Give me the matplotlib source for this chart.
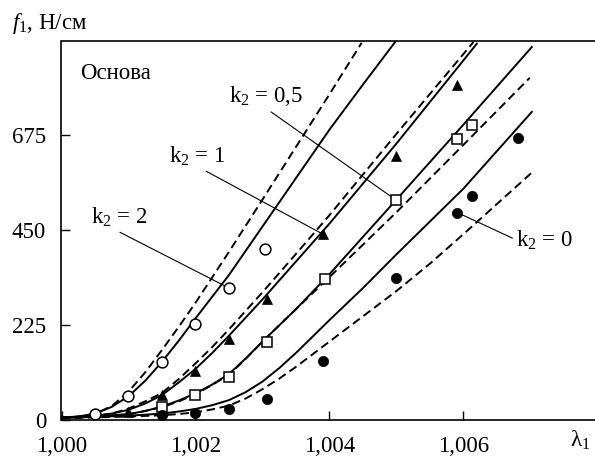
import matplotlib
matplotlib.use("Agg")
import matplotlib.pyplot as plt

plt.rcParams['font.family'] = ['Liberation Serif', 'DejaVu Serif']
plt.rcParams['mathtext.fontset'] = 'custom'
plt.rcParams['mathtext.rm'] = 'Liberation Serif'
plt.rcParams['mathtext.it'] = 'Liberation Serif:italic'

# ---------------- data ----------------
# calculated curves (solid) and (dashed) for each k2
k2_2_solid_x = [1.000, 1.00025, 1.0005, 1.00075, 1.001, 1.00125, 1.0015, 1.00175, 1.002, 1.0025, 1.003, 1.0035, 1.004, 1.0045, 1.00498]
k2_2_solid_y = [5, 7, 14, 30, 55, 92, 137, 187, 240, 343, 458, 573, 688, 795, 896]
k2_2_dash_x = [1.000, 1.00025, 1.0005, 1.00075, 1.001, 1.00125, 1.0015, 1.00175, 1.002, 1.0025, 1.003, 1.0035, 1.004, 1.00448]
k2_2_dash_y = [5, 7, 13, 32, 66, 112, 165, 220, 277, 398, 522, 647, 772, 894]

k2_1_solid_x = [1.000, 1.0005, 1.00075, 1.001, 1.00125, 1.0015, 1.00175, 1.002, 1.00225, 1.0025, 1.003, 1.0035, 1.004, 1.005, 1.0062]
k2_1_solid_y = [4, 9, 14, 23, 38, 58, 88, 120, 158, 199, 285, 375, 465, 655, 892]
k2_1_dash_x = [1.000, 1.0005, 1.00075, 1.001, 1.00125, 1.0015, 1.00175, 1.002, 1.00225, 1.0025, 1.003, 1.0035, 1.004, 1.005, 1.00615]
k2_1_dash_y = [4, 8, 14, 26, 43, 63, 96, 133, 172, 214, 302, 393, 485, 678, 896]

k2_05_solid_x = [1.000, 1.0005, 1.001, 1.00125, 1.0015, 1.00175, 1.002, 1.00225, 1.0025, 1.00275, 1.003, 1.0035, 1.004, 1.005, 1.006, 1.00702]
k2_05_solid_y = [4, 7, 13, 20, 31, 45, 62, 83, 108, 145, 185, 262, 345, 522, 700, 884]
k2_05_dash_x = [1.000, 1.0005, 1.001, 1.0015, 1.00175, 1.002, 1.00225, 1.0025, 1.00275, 1.003, 1.0035, 1.004, 1.005, 1.006, 1.00699]
k2_05_dash_y = [4, 6, 12, 29, 43, 60, 82, 106, 144, 185, 262, 338, 492, 652, 811]

k2_0_solid_x = [1.000, 1.0005, 1.001, 1.0015, 1.00175, 1.002, 1.00225, 1.0025, 1.00275, 1.003, 1.00325, 1.0035, 1.004, 1.0045, 1.005, 1.0055, 1.006, 1.00702]
k2_0_solid_y = [4, 6, 9, 14, 19, 25, 34, 46, 65, 90, 122, 158, 236, 312, 392, 470, 548, 730]
k2_0_dash_x = [1.000, 1.0005, 1.001, 1.0015, 1.00175, 1.002, 1.00225, 1.0025, 1.00275, 1.003, 1.00325, 1.0035, 1.004, 1.0045, 1.005, 1.0055, 1.006, 1.00702]
k2_0_dash_y = [3, 5, 7, 10, 13, 17, 24, 33, 50, 72, 97, 125, 185, 245, 305, 370, 440, 586]

# experimental points
pts_k2_2_x = [1.0005, 1.0010, 1.0015, 1.0020, 1.0025, 1.00304]
pts_k2_2_y = [14, 55, 137, 227, 312, 405]
pts_k2_1_x = [1.0010, 1.0015, 1.0020, 1.0025, 1.00306, 1.0039, 1.0050, 1.0059]
pts_k2_1_y = [17, 59, 116, 191, 286, 440, 625, 795]
pts_k2_05_x = [1.0015, 1.0020, 1.0025, 1.00307, 1.00393, 1.0050, 1.0059, 1.00612]
pts_k2_05_y = [29, 59, 102, 185, 333, 520, 665, 700]
pts_k2_0_x = [1.0015, 1.0020, 1.0025, 1.00306, 1.0039, 1.0050, 1.00591, 1.00612, 1.00682]
pts_k2_0_y = [10, 15, 25, 49, 140, 335, 491, 530, 667]

xticks = [1.000, 1.002, 1.004, 1.006]
xtick_labels = ["1,000", "1,002", "1,004", "1,006"]
yticks = [0, 225, 450, 675]
ytick_labels = ["0", "225", "450", "675"]

labels = ["k$_2$ = 2", "k$_2$ = 1", "k$_2$ = 0,5", "k$_2$ = 0"]

# ---------------- figure ----------------
W, H = 595, 462
fig = plt.figure(figsize=(W / 100, H / 100), dpi=100)
L, R, T, B = 61.5, 595, 40.7, 419.5
ax = fig.add_axes([L / W, 1 - B / H, (R - L) / W, (B - T) / H])
ax.set_xlim(1.000, 1.007963)
ax.set_ylim(0, 899)

lw = 1.4
dash = (0, (4.4, 2.4))
for (sx, sy, dx, dy) in [
    (k2_2_solid_x, k2_2_solid_y, k2_2_dash_x, k2_2_dash_y),
    (k2_1_solid_x, k2_1_solid_y, k2_1_dash_x, k2_1_dash_y),
    (k2_05_solid_x, k2_05_solid_y, k2_05_dash_x, k2_05_dash_y),
    (k2_0_solid_x, k2_0_solid_y, k2_0_dash_x, k2_0_dash_y),
]:
    ax.plot(sx, sy, color='black', lw=lw, solid_joinstyle='round', zorder=2)
    ax.plot(dx, dy, color='black', lw=lw, linestyle=dash, dash_capstyle='butt', zorder=2)

ms = 7.8
ax.plot(pts_k2_2_x, pts_k2_2_y, 'o', ms=ms, mfc='white', mec='black', mew=1.1, zorder=4, clip_on=False)
ax.plot(pts_k2_1_x, pts_k2_1_y, '^', ms=ms, mfc='black', mec='black', mew=0.5, zorder=4, clip_on=False)
ax.plot(pts_k2_05_x, pts_k2_05_y, 's', ms=ms * 0.95, mfc='white', mec='black', mew=1.1, zorder=4, clip_on=False)
ax.plot(pts_k2_0_x, pts_k2_0_y, 'o', ms=ms * 0.95, mfc='black', mec='black', mew=0.5, zorder=4, clip_on=False)

fs = 16.5
arrow = dict(arrowstyle='-', lw=0.8, color='black', shrinkA=1, shrinkB=0)
ax.annotate(labels[0], xy=(pts_k2_2_x[4], pts_k2_2_y[4]), xytext=(1.000858, 480),
            ha='center', va='center', fontsize=fs, zorder=3,
            arrowprops=dict(arrow, relpos=(0.4, 0.0)))
ax.annotate(labels[1], xy=(pts_k2_1_x[5], pts_k2_1_y[5]), xytext=(1.002022, 625),
            ha='center', va='center', fontsize=fs, zorder=3,
            arrowprops=dict(arrow, relpos=(0.55, 0.0)))
ax.annotate(labels[2], xy=(pts_k2_05_x[5], pts_k2_05_y[5]), xytext=(1.003052, 767),
            ha='center', va='center', fontsize=fs, zorder=3,
            arrowprops=dict(arrow, relpos=(0.5, 0.0)))
ax.annotate(labels[3], xy=(pts_k2_0_x[6], pts_k2_0_y[6]), xytext=(1.007216, 426),
            ha='center', va='center', fontsize=fs, zorder=3, annotation_clip=False,
            arrowprops=dict(arrow, relpos=(0.0, 0.5)))

ax.text(1.000276, 822, "Основа", ha='left', va='center', fontsize=fs)

# axes styling
for s in ['left', 'top', 'bottom']:
    ax.spines[s].set_linewidth(1.2)
ax.spines['right'].set_visible(False)
ax.set_xticks(xticks)
ax.set_xticklabels(xtick_labels)
ax.set_yticks(yticks)
ax.set_yticklabels(ytick_labels)
ax.tick_params(direction='in', length=6.5, width=1.0, labelsize=fs)
ax.tick_params(axis='x', pad=12)
ax.tick_params(axis='y', pad=11)

fig.text(12 / W, 1 - 23 / H, "$f_1$, Н/см", ha='left', va='center', fontsize=fs)
fig.text(580 / W, 1 - 440 / H, r"$\mathrm{\lambda}_1$", ha='center', va='center', fontsize=fs)

fig.savefig("out.png", dpi=100)
